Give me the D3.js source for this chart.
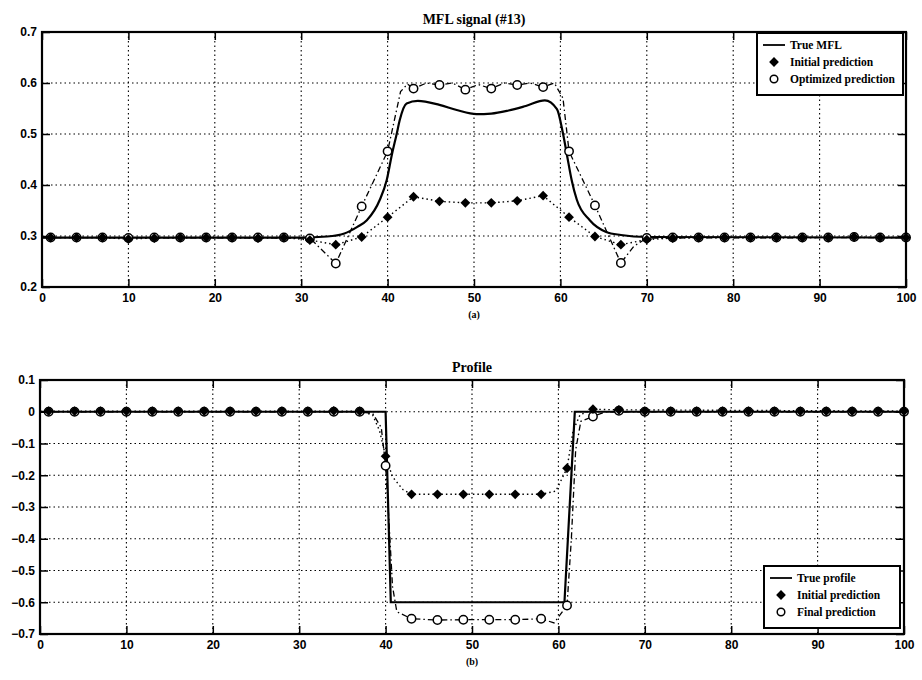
<!DOCTYPE html>
<html>
<head>
<meta charset="utf-8">
<script src="https://cdn.jsdelivr.net/npm/d3@7"></script>
<style>
  body { margin: 0; background: #fff; }
  svg { display: block; }
  .tick-label { font-family: "Liberation Sans", Arial, sans-serif; font-weight: bold; font-size: 12px; }
  .title { font-family: "Liberation Serif", "Times New Roman", serif; font-weight: bold; font-size: 14px; }
  .legend-text { font-family: "Liberation Serif", "Times New Roman", serif; font-weight: bold; font-size: 11.5px; }
</style>
</head>
<body>
<svg id="chart" width="922" height="680"></svg>
<script>
// tick labels
const xTicks = [0, 10, 20, 30, 40, 50, 60, 70, 80, 90, 100];
const mflTicks = [0.2, 0.3, 0.4, 0.5, 0.6, 0.7];
const profTicks = [-0.7, -0.6, -0.5, -0.4, -0.3, -0.2, -0.1, 0, 0.1];

// marker positions (every third sample)
const markerX = [1, 4, 7, 10, 13, 16, 19, 22, 25, 28, 31, 34, 37, 40, 43, 46, 49, 52, 55, 58,
                 61, 64, 67, 70, 73, 76, 79, 82, 85, 88, 91, 94, 97, 100];

// (a) MFL signal
const mflTrueX = [0, 30, 33, 35, 36.5, 37.6, 39.1, 39.9, 40.5, 41.05, 41.4, 42.2, 43.5, 46, 48, 50.3,
                  52, 54, 56, 58.2, 59.6, 60.3, 60.8, 61.3, 61.9, 63.4, 65.3, 67, 70, 100];
const mflTrueY = [0.297, 0.297, 0.299, 0.305, 0.318, 0.331, 0.371, 0.41, 0.46, 0.5, 0.527, 0.56, 0.565, 0.557, 0.547, 0.539,
                  0.54, 0.546, 0.555, 0.566, 0.549, 0.501, 0.455, 0.41, 0.371, 0.331, 0.308, 0.302, 0.298, 0.297];
const mflInit = [0.297, 0.297, 0.297, 0.294, 0.296, 0.297, 0.297, 0.297, 0.296, 0.297, 0.292, 0.283, 0.298, 0.337,
                 0.377, 0.368, 0.365, 0.365, 0.369, 0.379, 0.337, 0.299, 0.283, 0.293, 0.296, 0.297, 0.297, 0.297,
                 0.297, 0.297, 0.297, 0.298, 0.297, 0.297];
const mflOpt = [0.297, 0.297, 0.297, 0.296, 0.297, 0.297, 0.297, 0.297, 0.297, 0.297, 0.295, 0.246, 0.358, 0.466,
                0.589, 0.596, 0.587, 0.589, 0.596, 0.592, 0.466, 0.36, 0.247, 0.296, 0.297, 0.297, 0.297, 0.297,
                0.297, 0.297, 0.297, 0.298, 0.297, 0.297];
const mflOptLineX = [0, 31, 34, 37, 40, 41.5, 42.3, 43, 44.5, 46, 47.5, 49, 50.5, 52, 53.5, 55, 56.5, 58,
                     59.3, 60.3, 61, 64, 67, 68.5, 70, 100];
const mflOptLineY = [0.297, 0.296, 0.246, 0.358, 0.466, 0.583, 0.598, 0.589, 0.6, 0.596, 0.6, 0.587, 0.597, 0.589,
                     0.6, 0.596, 0.6, 0.592, 0.6, 0.57, 0.466, 0.36, 0.247, 0.28, 0.296, 0.297];

// (b) Profile
const profTrueX = [0, 40.0, 40.6, 60.7, 61.9, 100];
const profTrueY = [0, 0, -0.6, -0.6, 0, 0];
const profInit = [0.002, 0.002, 0.002, 0.002, 0.002, 0.002, 0.002, 0.002, 0.002, 0.002, 0.002, 0.003, 0.002, -0.14,
                  -0.26, -0.26, -0.26, -0.26, -0.26, -0.26, -0.178, 0.008, 0.006, 0.002, 0.002, 0.002, 0.002, 0.002,
                  0.002, 0.002, 0.002, 0.002, 0.002, 0.002];
const profFinal = [0, 0, 0, 0, 0, 0, 0, 0, 0, 0, 0, 0, 0, -0.17,
                   -0.652, -0.656, -0.655, -0.655, -0.655, -0.652, -0.61, -0.015, 0.003, 0, 0, 0, 0, 0,
                   0, 0, 0, 0, 0, 0];
const profInitLineX = [0, 37, 38.5, 39.3, 40, 40.8, 42, 43, 58, 59.7, 61, 61.7, 62.5, 64, 67, 100];
const profInitLineY = [0.002, 0.002, -0.01, -0.06, -0.14, -0.205, -0.245, -0.26, -0.26, -0.25, -0.178, -0.06, -0.01, 0.008, 0.006, 0.002];
const profFinalLineX = [0, 37, 38.5, 39.5, 40, 40.4, 40.8, 41.3, 43, 46, 49, 52, 55, 58, 59.5, 61, 61.5, 62, 62.6, 64, 65.5, 100];
const profFinalLineY = [0, 0, -0.005, -0.05, -0.17, -0.35, -0.55, -0.63, -0.652, -0.656, -0.655, -0.655, -0.655, -0.652,
                        -0.665, -0.61, -0.4, -0.12, -0.03, -0.015, 0, 0];

const svg = d3.select("#chart");
const zip = (xs, ys) => xs.map((x, i) => [x, ys[i]]);

const DOTTED = "1.5,3";
const DASHDOT = "6,3,1.5,3";

function drawPanel(cfg) {
    const x = d3.scaleLinear().domain([0, 100]).range([cfg.left, cfg.right]);
    const y = d3.scaleLinear().domain(cfg.yDomain).range([cfg.bottom, cfg.top]);
    const g = svg.append("g");

    // dotted grid
    g.append("g").selectAll("line").data(xTicks.slice(1, -1)).join("line")
        .attr("x1", d => x(d)).attr("x2", d => x(d))
        .attr("y1", cfg.top).attr("y2", cfg.bottom)
        .attr("stroke", "#000").attr("stroke-width", 1.1).attr("stroke-dasharray", DOTTED);
    g.append("g").selectAll("line").data(cfg.yTicks.slice(1, -1)).join("line")
        .attr("x1", cfg.left).attr("x2", cfg.right)
        .attr("y1", d => y(d)).attr("y2", d => y(d))
        .attr("stroke", "#000").attr("stroke-width", 1.1).attr("stroke-dasharray", DOTTED);

    const line = d3.line().x(d => x(d[0])).y(d => y(d[1]));
    const smooth = d3.line().x(d => x(d[0])).y(d => y(d[1])).curve(d3.curveMonotoneX);

    // true curve
    g.append("path").datum(zip(cfg.trueX, cfg.trueY))
        .attr("d", cfg.smoothTrue ? smooth : line)
        .attr("fill", "none").attr("stroke", "#000").attr("stroke-width", 2.2);
    // initial prediction (dotted)
    g.append("path").datum(zip(cfg.initLineX, cfg.initLineY))
        .attr("d", line)
        .attr("fill", "none").attr("stroke", "#000").attr("stroke-width", 1.4).attr("stroke-dasharray", DOTTED);
    // optimized / final prediction (dash-dot)
    g.append("path").datum(zip(cfg.optLineX, cfg.optLineY))
        .attr("d", line)
        .attr("fill", "none").attr("stroke", "#000").attr("stroke-width", 1.3).attr("stroke-dasharray", DASHDOT);

    // circle markers
    g.append("g").selectAll("circle").data(zip(markerX, cfg.opt)).join("circle")
        .attr("cx", d => x(d[0])).attr("cy", d => y(d[1])).attr("r", 4.2)
        .attr("fill", "#fff").attr("stroke", "#000").attr("stroke-width", 1.5);
    // diamond markers: square turned 45 degrees
    const diamond = d3.symbol().type(d3.symbolSquare).size(48);
    g.append("g").selectAll("path").data(zip(markerX, cfg.init)).join("path")
        .attr("transform", d => `translate(${x(d[0])},${y(d[1])}) rotate(45)`)
        .attr("d", diamond).attr("fill", "#000");

    // axes with inward ticks on all four sides
    const tk = 8;
    g.append("g").attr("transform", `translate(0,${cfg.bottom})`)
        .call(d3.axisBottom(x).tickValues(xTicks).tickSizeInner(-tk).tickSizeOuter(0).tickFormat(d3.format("d")))
        .call(a => a.select(".domain").remove())
        .call(a => a.selectAll("text").attr("class", "tick-label").attr("dy", "0.71em").attr("y", 6));
    g.append("g").attr("transform", `translate(0,${cfg.top})`)
        .call(d3.axisTop(x).tickValues(xTicks).tickSizeInner(-tk).tickSizeOuter(0).tickFormat(""))
        .call(a => a.select(".domain").remove());
    g.append("g").attr("transform", `translate(${cfg.left},0)`)
        .call(d3.axisLeft(y).tickValues(cfg.yTicks).tickSizeInner(-tk).tickSizeOuter(0).tickFormat(d3.format("~g")))
        .call(a => a.select(".domain").remove())
        .call(a => a.selectAll("text").attr("class", "tick-label").attr("x", -5));
    g.append("g").attr("transform", `translate(${cfg.right},0)`)
        .call(d3.axisRight(y).tickValues(cfg.yTicks).tickSizeInner(-tk).tickSizeOuter(0).tickFormat(""))
        .call(a => a.select(".domain").remove());
    g.selectAll(".tick line").attr("stroke", "#000").attr("stroke-width", 1.5);
    g.selectAll(".tick text").attr("fill", "#000");

    g.append("rect")
        .attr("x", cfg.left).attr("y", cfg.top)
        .attr("width", cfg.right - cfg.left).attr("height", cfg.bottom - cfg.top)
        .attr("fill", "none").attr("stroke", "#000").attr("stroke-width", 2.2);

    // titles
    const cx = (cfg.left + cfg.right) / 2;
    g.append("text").attr("class", "title").attr("x", cx).attr("y", cfg.top - 8)
        .attr("text-anchor", "middle").text(cfg.title);
    g.append("text").attr("class", "title").attr("x", cx).attr("y", cfg.bottom + 31)
        .attr("text-anchor", "middle").style("font-size", "10px").text(cfg.sub);

    // legend
    const L = cfg.legend;
    const lg = g.append("g").attr("transform", `translate(${L.x},${L.y})`);
    lg.append("rect").attr("width", L.w).attr("height", L.h)
        .attr("fill", "#fff").attr("stroke", "#000").attr("stroke-width", 2);
    const rows = [12, 29, 46];
    lg.append("line").attr("x1", 6).attr("x2", 28).attr("y1", rows[0]).attr("y2", rows[0])
        .attr("stroke", "#000").attr("stroke-width", 1.8);
    lg.append("path").attr("transform", `translate(17,${rows[1]}) rotate(45)`).attr("d", diamond).attr("fill", "#000");
    lg.append("circle").attr("cx", 17).attr("cy", rows[2]).attr("r", 3.8)
        .attr("fill", "#fff").attr("stroke", "#000").attr("stroke-width", 1.5);
    lg.selectAll("text").data(L.labels).join("text")
        .attr("class", "legend-text")
        .attr("x", 33).attr("y", (d, i) => rows[i] + 4).text(d => d);
}

drawPanel({
    left: 42, right: 906, top: 32, bottom: 287,
    yDomain: [0.2, 0.7], yTicks: mflTicks,
    trueX: mflTrueX, trueY: mflTrueY, smoothTrue: true,
    initLineX: markerX, initLineY: mflInit,
    optLineX: mflOptLineX, optLineY: mflOptLineY,
    init: mflInit, opt: mflOpt,
    title: "MFL signal (#13)", sub: "(a)",
    legend: { x: 757, y: 33, w: 146, h: 62, labels: ["True MFL", "Initial prediction", "Optimized prediction"] }
});

drawPanel({
    left: 40, right: 904, top: 380, bottom: 634,
    yDomain: [-0.7, 0.1], yTicks: profTicks,
    trueX: profTrueX, trueY: profTrueY, smoothTrue: false,
    initLineX: profInitLineX, initLineY: profInitLineY,
    optLineX: profFinalLineX, optLineY: profFinalLineY,
    init: profInit, opt: profFinal,
    title: "Profile", sub: "(b)",
    legend: { x: 764, y: 566, w: 136, h: 62, labels: ["True profile", "Initial prediction", "Final prediction"] }
});
</script>
</body>
</html>
